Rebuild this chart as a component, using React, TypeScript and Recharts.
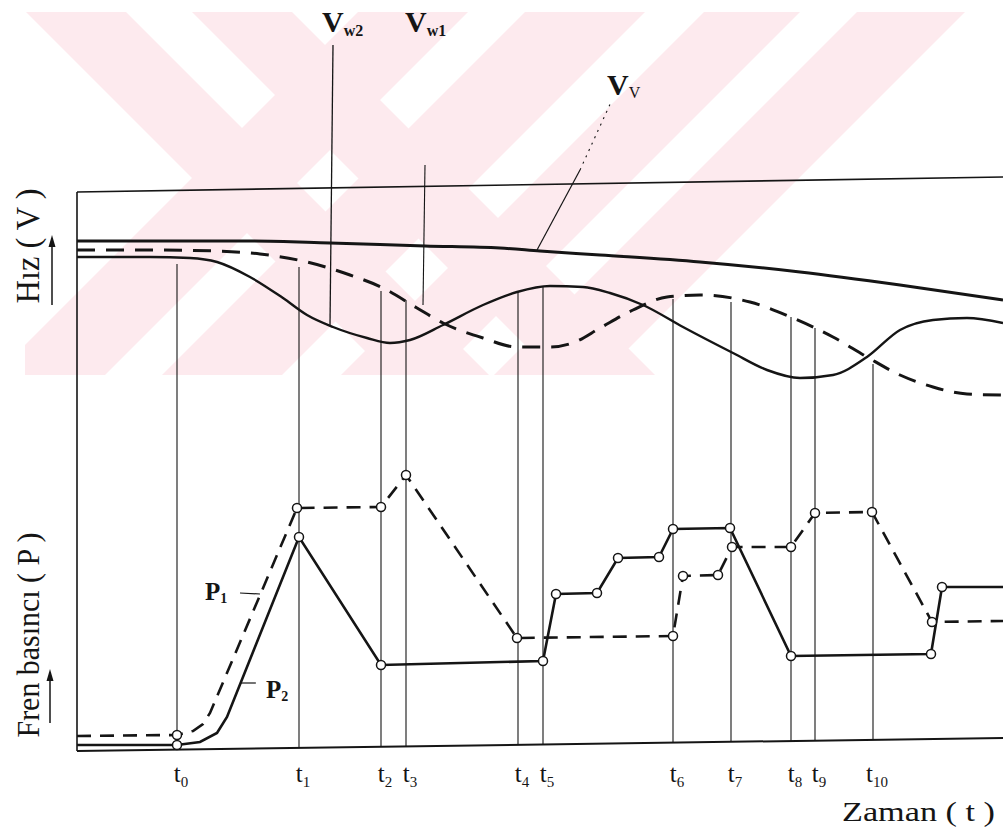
import React from 'react'
import { ComposedChart, Line, Scatter, XAxis, YAxis, ReferenceLine } from 'recharts'

// zaman ekseni: sol çerçeve = 0, birimler taranmış
const tTimes = [100, 222, 304, 329, 441, 466, 596, 654, 714, 738, 796]
const tTops = [482, 479, 455, 446, 454, 459, 447, 444, 429, 418, 382]
const tLabels = ['0', '1', '2', '3', '4', '5', '6', '7', '8', '9', '10']

// hız eğrileri
const vvTime = [0, 73, 173, 253, 348, 423, 463, 523, 623, 723, 823, 926]
const vvSpeed = [505, 505, 505, 503, 500, 498, 495, 491, 484, 474, 461, 446]

const vw1Time = [0, 73, 140, 183, 230, 273, 306, 340, 366, 406, 440, 473, 498, 523, 556, 590, 623, 673, 716, 756, 790, 823, 856, 890, 926]
const vw1Speed = [496, 496, 495, 492, 484, 471, 458, 438, 423, 408, 399, 399, 404, 418, 436, 449, 451, 444, 428, 409, 389, 371, 359, 352, 351]

const vw2Time = [0, 73, 113, 140, 173, 206, 230, 256, 290, 313, 333, 366, 406, 440, 473, 506, 533, 566, 606, 656, 690, 723, 756, 790, 823, 856, 890, 926]
const vw2Speed = [489, 489, 488, 484, 469, 448, 431, 419, 408, 403, 406, 421, 441, 454, 460, 459, 453, 441, 419, 393, 376, 368, 371, 389, 416, 426, 428, 423]

// fren basınçları: köşe noktaları (daireli) ve t0 sonrası kavis noktaları
const p1NodeTime = [100, 220, 304, 329, 440, 596, 606, 641, 655, 714, 738, 795, 855]
const p1NodeValue = [11, 238, 239, 271, 108, 110, 170, 171, 199, 199, 233, 234, 124]
const p1BendTime = [0, 116, 126, 133, 926]
const p1BendValue = [10, 15, 22, 33, 125]

const p2NodeTime = [100, 222, 304, 466, 479, 520, 541, 582, 596, 653, 714, 854, 865]
const p2NodeValue = [1, 209, 81, 85, 152, 153, 188, 189, 217, 218, 90, 92, 159]
const p2BendTime = [0, 123, 140, 150, 926]
const p2BendValue = [1, 4, 13, 29, 159]

const serif = '"Liberation Serif", "DejaVu Serif", serif'
const ink = '#151515'

const pts = (xs: number[], ys: number[]) => xs.map((x, i) => ({ x, y: ys[i] }))
const merged = (ax: number[], ay: number[], bx: number[], by: number[]) =>
  [...pts(ax, ay), ...pts(bx, by)].sort((a, b) => a.x - b.x)

const vv = pts(vvTime, vvSpeed)
const vw1 = pts(vw1Time, vw1Speed)
const vw2 = pts(vw2Time, vw2Speed)
const p1Line = merged(p1NodeTime, p1NodeValue, p1BendTime, p1BendValue)
const p2Line = merged(p2NodeTime, p2NodeValue, p2BendTime, p2BendValue)
const p1Nodes = pts(p1NodeTime, p1NodeValue)
const p2Nodes = pts(p2NodeTime, p2NodeValue)

// taramadaki hafif eğiklik: alt eksen soldan sağa yükselir
const axisAt = (x: number) => -5 + (13 * x) / 926

function TimeTick({ x, payload }: any) {
  const i = tTimes.indexOf(payload.value)
  return (
    <text x={x + 4} y={782} textAnchor="middle" fontFamily={serif} fontSize={25} fill={ink}>
      t
      <tspan fontSize={15} dy={5}>{tLabels[i]}</tspan>
    </text>
  )
}

const node = (p: any) => (
  <circle cx={p.cx} cy={p.cy} r={4.5} fill="#fff" stroke={ink} strokeWidth={1.5} />
)

function Watermark() {
  const top = 12
  const h = 363
  const back = [[26, 100], [192, 100]] // "\" bantları
  const fwd = [[358, 110], [525, 120], [704, 96], [857, 108]] // "/" bantları
  return (
    <svg width={1003} height={836} style={{ position: 'absolute', left: 0, top: 0 }}>
      <defs>
        <clipPath id="wm">
          <rect x={25} y={top} width={978} height={h} />
        </clipPath>
      </defs>
      <g clipPath="url(#wm)" fill="#fdeaee">
        {back.map(([a, w]) => (
          <polygon key={'b' + a} points={`${a},${top} ${a + w},${top} ${a + w + h},${top + h} ${a + h},${top + h}`} />
        ))}
        {fwd.map(([a, w]) => (
          <polygon key={'f' + a} points={`${a},${top} ${a + w},${top} ${a + w - h},${top + h} ${a - h},${top + h}`} />
        ))}
      </g>
    </svg>
  )
}

function Labels() {
  const bold = { fontFamily: serif, fontWeight: 700, fill: ink }
  return (
    <svg width={1003} height={836} style={{ position: 'absolute', left: 0, top: 0, pointerEvents: 'none' }}>
      <text x={322} y={32} fontSize={30} {...bold}>
        V<tspan fontSize={16} dy={4}>w2</tspan>
      </text>
      <text x={405} y={32} fontSize={30} {...bold}>
        V<tspan fontSize={16} dy={4}>w1</tspan>
      </text>
      <text x={607} y={95} fontSize={30} {...bold}>
        V<tspan fontSize={16} dy={3} fontWeight={400}>V</tspan>
      </text>
      <text x={205} y={600} fontSize={25} {...bold}>
        P<tspan fontSize={14} dy={3}>1</tspan>
      </text>
      <text x={266} y={698} fontSize={25} {...bold}>
        P<tspan fontSize={14} dy={3}>2</tspan>
      </text>

      <text transform="translate(39,246) rotate(-90)" textAnchor="middle" fontFamily={serif} fontSize={34}
        textLength={115} lengthAdjust="spacingAndGlyphs" fill={ink}>
        Hız ( V )
      </text>
      <line x1={52} y1={305} x2={52} y2={244} stroke={ink} strokeWidth={1.5} />
      <polygon points="52,235 48.5,247 55.5,247" fill={ink} />

      <text transform="translate(39,635) rotate(-90)" textAnchor="middle" fontFamily={serif} fontSize={32}
        textLength={205} lengthAdjust="spacingAndGlyphs" fill={ink}>
        Fren basıncı ( P )
      </text>
      <line x1={50} y1={723} x2={50} y2={678} stroke={ink} strokeWidth={1.5} />
      <polygon points="50,669 46.5,681 53.5,681" fill={ink} />

      <text x={842} y={821} fontFamily={serif} fontSize={28} textLength={153} lengthAdjust="spacingAndGlyphs" fill={ink}>
        Zaman ( t )
      </text>
    </svg>
  )
}

export default function App() {
  return (
    <div style={{ position: 'absolute', left: 0, top: 0, width: 1003, height: 836, background: '#fff' }}>
      <Watermark />
      <div style={{ position: 'absolute', left: 0, top: 0 }}>
        <ComposedChart width={1003} height={836} margin={{ top: 146, right: 0, bottom: 30, left: 77 }}>
          <XAxis
            type="number"
            dataKey="x"
            domain={[0, 926]}
            ticks={tTimes}
            interval={0}
            tick={<TimeTick />}
            axisLine={false}
            tickLine={false}
            height={40}
            allowDataOverflow
          />
          <YAxis type="number" dataKey="y" domain={[-20, 600]} hide allowDataOverflow />

          {/* çerçeve */}
          <ReferenceLine segment={[{ x: 0, y: 554 }, { x: 926, y: 569 }]} stroke={ink} strokeWidth={1.6} ifOverflow="visible" />
          <ReferenceLine segment={[{ x: 0, y: axisAt(0) }, { x: 0, y: 554 }]} stroke={ink} strokeWidth={1.6} ifOverflow="visible" />
          <ReferenceLine segment={[{ x: 0, y: axisAt(0) }, { x: 926, y: axisAt(926) }]} stroke={ink} strokeWidth={2} ifOverflow="visible" />

          {/* zaman çizgileri */}
          {tTimes.map((t, i) => (
            <ReferenceLine key={t} segment={[{ x: t, y: tTops[i] }, { x: t, y: axisAt(t) }]} stroke={ink} strokeWidth={1.1} ifOverflow="visible" />
          ))}

          {/* etiket çizgileri */}
          <ReferenceLine segment={[{ x: 256, y: 701 }, { x: 253, y: 421 }]} stroke={ink} strokeWidth={1.3} ifOverflow="visible" />
          <ReferenceLine segment={[{ x: 348, y: 581 }, { x: 346, y: 441 }]} stroke={ink} strokeWidth={1.1} ifOverflow="visible" />
          <ReferenceLine segment={[{ x: 460, y: 496 }, { x: 503, y: 576 }]} stroke={ink} strokeWidth={1.2} ifOverflow="visible" />
          <ReferenceLine segment={[{ x: 503, y: 576 }, { x: 535, y: 646 }]} stroke={ink} strokeWidth={1.1} strokeDasharray="2 5" ifOverflow="visible" />
          <ReferenceLine segment={[{ x: 163, y: 153 }, { x: 183, y: 152 }]} stroke={ink} strokeWidth={1.2} ifOverflow="visible" />
          <ReferenceLine segment={[{ x: 164, y: 63 }, { x: 179, y: 63 }]} stroke={ink} strokeWidth={1.2} ifOverflow="visible" />

          <Line data={vv} dataKey="y" type="monotone" stroke={ink} strokeWidth={3} dot={false} activeDot={false} isAnimationActive={false} />
          <Line data={vw1} dataKey="y" type="monotone" stroke={ink} strokeWidth={3} strokeDasharray="18 11" dot={false} activeDot={false} isAnimationActive={false} />
          <Line data={vw2} dataKey="y" type="monotone" stroke={ink} strokeWidth={2.4} dot={false} activeDot={false} isAnimationActive={false} />

          <Line data={p1Line} dataKey="y" type="linear" stroke={ink} strokeWidth={2.6} strokeDasharray="14 9" dot={false} activeDot={false} isAnimationActive={false} />
          <Line data={p2Line} dataKey="y" type="linear" stroke={ink} strokeWidth={2.6} dot={false} activeDot={false} isAnimationActive={false} />
          <Scatter data={p1Nodes} dataKey="y" shape={node} isAnimationActive={false} />
          <Scatter data={p2Nodes} dataKey="y" shape={node} isAnimationActive={false} />
        </ComposedChart>
      </div>
      <Labels />
    </div>
  )
}
